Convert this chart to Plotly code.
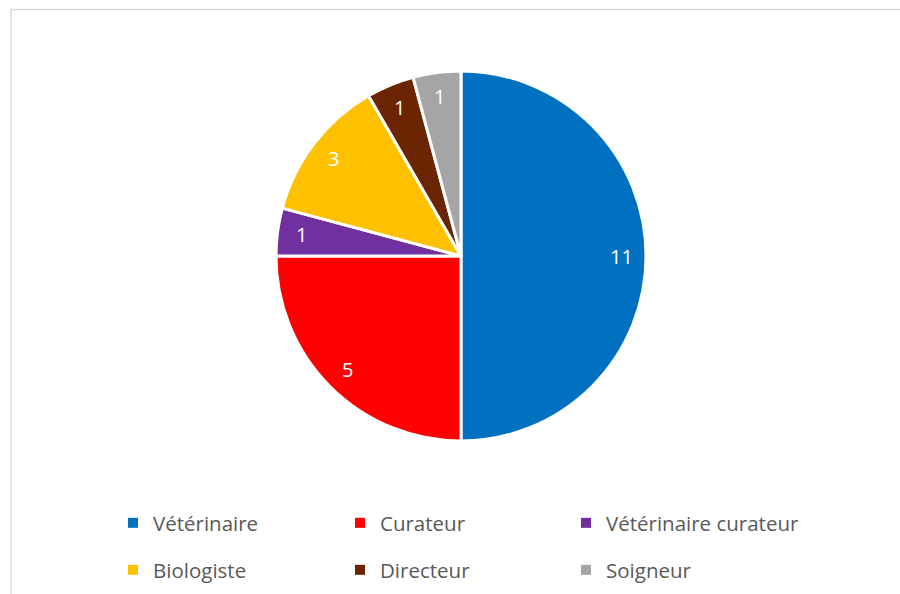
import math
import plotly.graph_objects as go

categories = ["Vétérinaire", "Curateur", "Vétérinaire curateur", "Biologiste", "Directeur", "Soigneur"]
# slice sizes as drawn (angles) and the data labels shown on them
slice_values = [12, 6, 1, 3, 1, 1]
label_values = [11, 5, 1, 3, 1, 1]
colors = ["#0070C0", "#FF0000", "#7030A0", "#FFC000", "#6B2503", "#A5A5A5"]

W, H = 900, 594

def px_x(x):
    return x / W

def px_y(y):
    return 1 - y / H

# pie geometry (screen pixels)
CX, CY, R = 461, 256, 185

fig = go.Figure()
fig.add_trace(go.Pie(
    labels=categories, values=slice_values, sort=False, direction="clockwise", rotation=0,
    marker=dict(colors=colors, line=dict(color="white", width=3)),
    text=[str(v) for v in label_values], textinfo="none",
    domain=dict(x=[px_x(CX - R), px_x(CX + R)], y=[px_y(CY + R), px_y(CY - R)]),
    showlegend=False, hovertemplate="%{label}: %{text}<extra></extra>",
))

# data labels placed near the rim of each slice (Excel "best fit" look)
total = sum(slice_values)
cum = 0
annotations = []
for v, lab in zip(slice_values, label_values):
    mid = (cum + v / 2) / total * 2 * math.pi
    cum += v
    x = CX + 0.87 * R * math.sin(mid)
    y = CY - 0.87 * R * math.cos(mid)
    annotations.append(dict(
        x=px_x(x), y=px_y(y), xref="paper", yref="paper", text=str(lab),
        showarrow=False, xanchor="center", yanchor="middle",
        font=dict(family="Open Sans", size=20, color="white"),
    ))

# legend: one small legend per entry, laid out as 3 columns x 2 rows
col_text_x = [153, 380, 606]
row_y = [523, 570]
legends = {}
for i, (c, col) in enumerate(zip(categories, colors)):
    key = "legend" if i == 0 else f"legend{i + 1}"
    fig.add_trace(go.Scatter(
        x=[None], y=[None], mode="markers", name=c,
        marker=dict(symbol="square", size=10, color=col),
        legend=key, hoverinfo="skip",
    ))
    legends[key] = dict(
        orientation="h", xanchor="left", yanchor="middle",
        x=px_x(col_text_x[i % 3] - 40), y=px_y(row_y[i // 3]),
        bgcolor="rgba(0,0,0,0)",
        font=dict(family="Open Sans", size=20.5, color="#595959"),
    )

fig.update_layout(
    width=W, height=H,
    margin=dict(l=0, r=0, t=0, b=0),
    paper_bgcolor="white", plot_bgcolor="white",
    xaxis=dict(visible=False), yaxis=dict(visible=False),
    annotations=annotations,
    shapes=[dict(type="rect", xref="paper", yref="paper",
                 x0=px_x(11), x1=1.1, y0=-0.1, y1=px_y(9.5),
                 line=dict(color="#D9D9D9", width=1.5), layer="below")],
    **legends,
)

fig.write_html("out.html", config={"displayModeBar": False},
               post_script="document.body.style.margin='0px';")
